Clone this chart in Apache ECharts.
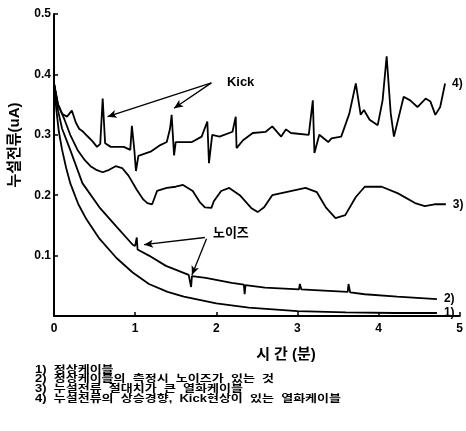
<!DOCTYPE html>
<html><head><meta charset="utf-8">
<script src="https://cdn.jsdelivr.net/npm/echarts@6/dist/echarts.min.js"></script>
<style>html,body{margin:0;padding:0;background:#fff}#c{width:466px;height:431px}</style>
</head><body><div id="c"></div>
<script>
// ---- data (x: minutes, y: uA) ----
var series1 = [[0,0.385],[0.03,0.34],[0.06,0.305],[0.1,0.275],[0.15,0.245],[0.2,0.22],[0.3,0.185],[0.4,0.16],[0.56,0.128],[0.77,0.096],[0.97,0.072],[1.17,0.053],[1.4,0.04],[1.6,0.032],[2.0,0.021],[2.4,0.014],[3.0,0.008],[3.6,0.006],[4.2,0.005],[4.72,0.005]];
var series2 = [[0,0.385],[0.05,0.34],[0.1,0.31],[0.2,0.275],[0.35,0.22],[0.56,0.18],[0.77,0.148],[0.97,0.118],[1.0,0.116],[1.02,0.13],[1.03,0.11],[1.17,0.1],[1.38,0.083],[1.66,0.068],[1.68,0.067],[1.69,0.048],[1.70,0.066],[1.87,0.063],[2.19,0.055],[2.34,0.052],[2.35,0.036],[2.36,0.051],[2.6,0.047],[3.02,0.044],[3.03,0.053],[3.05,0.044],[3.21,0.043],[3.62,0.040],[3.63,0.053],[3.65,0.039],[3.83,0.036],[4.23,0.032],[4.72,0.028]];
var series3 = [[0,0.385],[0.05,0.35],[0.13,0.325],[0.2,0.30],[0.29,0.275],[0.38,0.258],[0.45,0.248],[0.52,0.242],[0.6,0.238],[0.68,0.242],[0.76,0.248],[0.84,0.245],[0.92,0.232],[1.02,0.209],[1.1,0.193],[1.15,0.187],[1.21,0.185],[1.27,0.207],[1.39,0.212],[1.5,0.214],[1.59,0.217],[1.71,0.207],[1.8,0.188],[1.86,0.18],[1.94,0.179],[1.97,0.19],[2.06,0.207],[2.16,0.212],[2.29,0.2],[2.43,0.179],[2.51,0.172],[2.59,0.18],[2.69,0.2],[2.86,0.205],[3.1,0.212],[3.24,0.205],[3.35,0.18],[3.47,0.162],[3.59,0.167],[3.72,0.197],[3.83,0.214],[4.04,0.214],[4.24,0.203],[4.45,0.187],[4.57,0.182],[4.69,0.185],[4.83,0.185]];
var series4 = [[0,0.385],[0.05,0.35],[0.1,0.335],[0.16,0.33],[0.22,0.34],[0.27,0.32],[0.31,0.31],[0.36,0.305],[0.41,0.298],[0.47,0.29],[0.53,0.28],[0.57,0.285],[0.6,0.36],[0.63,0.286],[0.7,0.28],[0.86,0.28],[0.94,0.275],[0.96,0.315],[0.99,0.275],[1.01,0.24],[1.04,0.265],[1.19,0.272],[1.31,0.283],[1.39,0.288],[1.43,0.31],[1.45,0.333],[1.48,0.266],[1.5,0.288],[1.7,0.288],[1.82,0.297],[1.89,0.322],[1.91,0.253],[1.95,0.3],[2.04,0.297],[2.2,0.305],[2.24,0.33],[2.25,0.278],[2.33,0.291],[2.45,0.303],[2.61,0.305],[2.69,0.314],[2.8,0.297],[2.86,0.309],[2.92,0.303],[3.14,0.3],[3.19,0.357],[3.21,0.27],[3.27,0.3],[3.38,0.288],[3.42,0.294],[3.54,0.297],[3.64,0.335],[3.72,0.385],[3.78,0.333],[3.82,0.341],[3.89,0.325],[3.99,0.316],[4.05,0.357],[4.1,0.43],[4.15,0.336],[4.19,0.297],[4.31,0.363],[4.39,0.357],[4.48,0.346],[4.58,0.36],[4.64,0.355],[4.7,0.333],[4.76,0.346],[4.82,0.385]];
var seriesTags = ['1)','2)','3)','4)'];
var xTicks = [0,1,2,3,4,5];
var yTicks = [0.1,0.2,0.3,0.4,0.5];
var kickText = {label:'Kick', at:[2.3,0.387]};
var kickArrows = [[[1.94,0.386],[0.66,0.33]],[[1.94,0.386],[1.48,0.344]]];
var noiseText = {label:'노이즈', at:[2.18,0.137]};
var noiseArrows = [[[1.86,0.13],[1.11,0.118]],[[1.88,0.128],[1.70,0.068]]];
var legendLines = ['1)  정상케이블','2)  정상케이블의  측정시  노이즈가  있는  것','3)  누설전류  절대치가  큰  열화케이블','4)  누설전류의  상승경향,  Kick현상이  있는  열화케이블'];
var yName = '누설전류(uA)';
var xName = '시 간 (분)';

var FONT = '"Liberation Sans", Arial, "Noto Sans CJK KR", sans-serif';
var chart = echarts.init(document.getElementById('c'), null, {renderer:'canvas'});

function arrowLines(list){
  return list.map(function(a){ return [{coord:a[0], symbol:'none'},{coord:a[1], symbol:'arrow'}]; });
}
function mk(data, tag, extra){
  var s = {
    type:'line', data:data, showSymbol:false, symbol:'none', smooth:false,
    lineStyle:{color:'#000', width:1.8}, silent:true, animation:false,
    endLabel:{show:true, formatter:tag, color:'#000', fontFamily:FONT, fontWeight:'bold', fontSize:12, distance:7}
  };
  if(extra) for(var k in extra) s[k]=extra[k];
  return s;
}

var option = {
  animation:false,
  grid:{left:54, right:3, top:14, bottom:115, containLabel:false},
  xAxis:{type:'value', min:0, max:5, interval:1,
    axisLine:{lineStyle:{color:'#000', width:2}},
    axisTick:{show:true, inside:true, length:4, lineStyle:{color:'#000', width:1.5}},
    splitLine:{show:false},
    axisLabel:{color:'#000', fontFamily:FONT, fontWeight:'bold', fontSize:12, margin:7,
      formatter:function(v){ return xTicks.indexOf(v)>=0 ? String(v) : ''; }}
  },
  yAxis:{type:'value', min:0, max:0.5, interval:0.1,
    axisLine:{show:true, lineStyle:{color:'#000', width:2}},
    axisTick:{show:true, inside:true, length:4, lineStyle:{color:'#000', width:1.5}},
    splitLine:{show:false},
    axisLabel:{color:'#000', fontFamily:FONT, fontWeight:'bold', fontSize:12, margin:3,
      formatter:function(v){ var r=Math.round(v*10)/10; return yTicks.indexOf(r)>=0 ? r.toFixed(1) : ''; }}
  },
  series:[
    mk(series1, seriesTags[0]),
    mk(series2, seriesTags[1], {markLine:{silent:true, symbolSize:[6,9], label:{show:false},
      lineStyle:{color:'#000', width:1.3, type:'solid'}, data:arrowLines(noiseArrows)}}),
    mk(series3, seriesTags[2]),
    mk(series4, seriesTags[3], {markLine:{silent:true, symbolSize:[6,9], label:{show:false},
      lineStyle:{color:'#000', width:1.3, type:'solid'}, data:arrowLines(kickArrows)}})
  ]
};
chart.setOption(option);

var kp = chart.convertToPixel({gridIndex:0}, kickText.at);
var np = chart.convertToPixel({gridIndex:0}, noiseText.at);
var g = [
  {type:'text', x:kp[0], y:kp[1], style:{text:kickText.label, fill:'#000', font:'bold 13px '+FONT, textAlign:'center', textVerticalAlign:'middle'}},
  {type:'text', x:np[0], y:np[1], style:{text:noiseText.label, fill:'#000', font:'bold 13px '+FONT, textAlign:'center', textVerticalAlign:'middle'}},
  {type:'text', x:15, y:145, rotation:Math.PI/2, style:{text:yName, fill:'#000', font:'bold 15px '+FONT, textAlign:'center', textVerticalAlign:'middle'}},
  {type:'text', x:286, y:355, style:{text:xName, fill:'#000', font:'bold 15px '+FONT, textAlign:'center', textVerticalAlign:'middle'}}
];
legendLines.forEach(function(t,i){
  g.push({type:'text', x:35, y:365 + i*9.6, scaleY:0.78, style:{text:t, fill:'#000', font:'bold 13px '+FONT, textAlign:'left', textVerticalAlign:'top'}});
});
chart.setOption({graphic:g});
</script>
</body></html>
